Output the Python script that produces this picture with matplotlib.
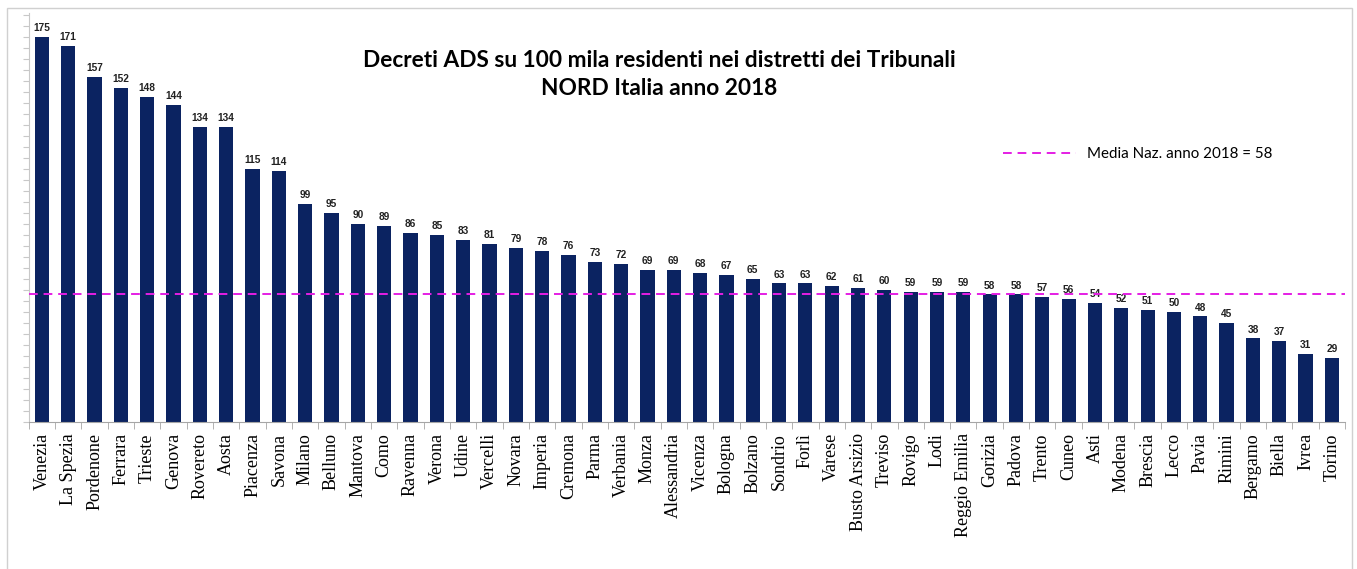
import numpy as np
import matplotlib.pyplot as plt
from matplotlib.patches import Rectangle

# Decreti ADS per 100k residenti, tribunali del Nord, 2018
tribunali = ["Venezia", "La Spezia", "Pordenone", "Ferrara", "Trieste", "Genova",
             "Rovereto", "Aosta", "Piacenza", "Savona", "Milano", "Belluno",
             "Mantova", "Como", "Ravenna", "Verona", "Udine", "Vercelli", "Novara",
             "Imperia", "Cremona", "Parma", "Verbania", "Monza", "Alessandria",
             "Vicenza", "Bologna", "Bolzano", "Sondrio", "Forlì", "Varese",
             "Busto Arsizio", "Treviso", "Rovigo", "Lodi", "Reggio Emilia",
             "Gorizia", "Padova", "Trento", "Cuneo", "Asti", "Modena", "Brescia",
             "Lecco", "Pavia", "Rimini", "Bergamo", "Biella", "Ivrea", "Torino"]
decreti = [175, 171, 157, 152, 148, 144, 134, 134, 115, 114, 99, 95, 90, 89, 86,
           85, 83, 81, 79, 78, 76, 73, 72, 69, 69, 68, 67, 65, 63, 63, 62, 61, 60,
           59, 59, 59, 58, 58, 57, 56, 54, 52, 51, 50, 48, 45, 38, 37, 31, 29]
media_naz = 58

navy = "#0b2361"
grey = "#a6a6a6"

fig = plt.figure(figsize=(13.57, 5.69), dpi=100)
ax = fig.add_axes([0.0212, 0.2583, 0.9700, 0.7188])

x = np.arange(len(tribunali))
bars = ax.bar(x, decreti, width=0.54, color=navy, zorder=2)
for xi, v in zip(x, decreti):
    ax.text(xi, v + 1.8, str(v), ha="center", va="bottom", fontsize=7.3,
            fontweight="bold", family="Liberation Sans", color="#222222")

ax.axhline(media_naz, color="#e41ee4", lw=1.4, ls=(0, (4.5, 3)), zorder=3,
           label="Media Naz. anno 2018 = 58")

ax.set_xlim(-0.5, len(tribunali) - 0.5)
ax.set_ylim(0, 186)

# labels at bar centres, small tick marks at the category boundaries
ax.set_xticks(x, tribunali, rotation=90, family="Liberation Serif", fontsize=13)
ax.tick_params(axis="x", which="major", length=0, pad=8)
ax.set_xticks(np.arange(len(tribunali) + 1) - 0.5, minor=True)
ax.tick_params(axis="x", which="minor", length=5, color=grey)

ax.set_yticks(np.arange(0, 186, 5))
ax.tick_params(axis="y", length=4, color="#c8c8c8", labelleft=False)

for side in ["top", "right"]:
    ax.spines[side].set_visible(False)
ax.spines["left"].set_color("#c8c8c8")
ax.spines["bottom"].set_color(grey)

fig.text(0.486, 0.869, "Decreti ADS su 100 mila residenti nei distretti dei Tribunali\nNORD Italia anno 2018",
         ha="center", va="center", fontsize=16.3, fontweight="bold", family="Lato",
         linespacing=1.42)

leg = ax.legend(loc="center left", bbox_to_anchor=(0.73, 0.655), frameon=False,
                handlelength=4.8, handletextpad=0.75,
                prop={"family": "Lato", "size": 10.9})

# thin grey sheet border around the chart
fig.patches.append(Rectangle((7 / 1357, -0.1), (1352 - 7) / 1357, 1.1 - 8 / 569,
                             transform=fig.transFigure, fill=False,
                             edgecolor="#d0d0d0", lw=1))

fig.savefig("out.png", dpi=100)
